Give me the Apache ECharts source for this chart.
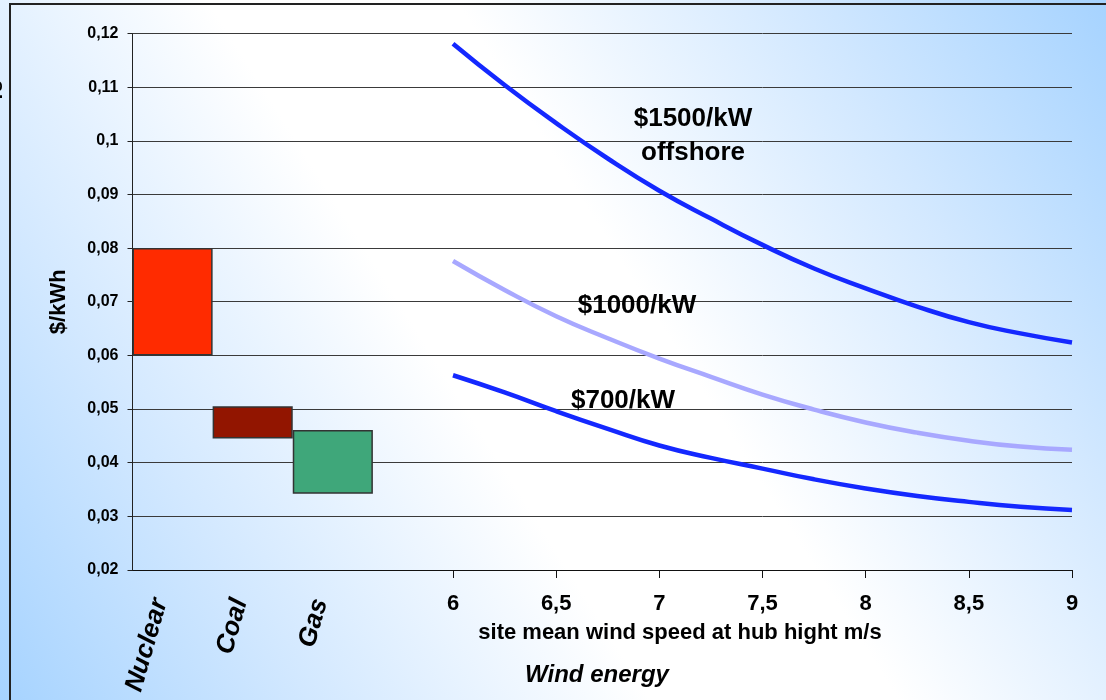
<!DOCTYPE html>
<html>
<head>
<meta charset="utf-8">
<script src="https://cdn.jsdelivr.net/npm/echarts@6/dist/echarts.min.js"></script>
<style>
  html, body { margin: 0; padding: 0; }
  #chart { width: 1106px; height: 700px; }
</style>
</head>
<body>
<div id="chart"></div>
<script>
// Conventional generation cost ranges ($/kWh)
const plants = ['Nuclear', 'Coal', 'Gas', ''];
const plantLow = [0.060, 0.0445, 0.0342, null];
const plantHigh = [0.080, 0.0505, 0.0461, null];
const plantColors = ['#ff2b00', '#921500', '#3fa77a', 'transparent'];

// Wind energy cost vs. site mean wind speed (m/s)
const windSpeed = [6, 6.25, 6.5, 6.75, 7, 7.25, 7.5, 7.75, 8, 8.25, 8.5, 8.75, 9];
const cost1500 = [0.1181, 0.1104, 0.1033, 0.0967, 0.0907, 0.0855, 0.0806, 0.0762, 0.0725, 0.0691, 0.0662, 0.0641, 0.0624];
const cost1000 = [0.0776, 0.0722, 0.0673, 0.0632, 0.0594, 0.0560, 0.0527, 0.0499, 0.0475, 0.0456, 0.0441, 0.0430, 0.0424];
const cost700  = [0.0563, 0.0531, 0.0496, 0.0463, 0.0432, 0.0409, 0.0389, 0.0369, 0.0352, 0.0338, 0.0327, 0.0318, 0.0312];

const yMin = 0.02, yMax = 0.12, yStep = 0.01;
const xMin = 6, xMax = 9, xStep = 0.5;

const FONT = "'Liberation Sans', Arial, sans-serif";
const comma = v => String(+(+v).toFixed(3)).replace('.', ',');

const chart = echarts.init(document.getElementById('chart'));

const pair = (xs, ys) => xs.map((x, i) => [x, ys[i]]);

const lineStyle = (color) => ({ width: 4.5, color: color });

const label = (text, x, y, font) => ({
  type: 'text', x: x, y: y, z: 50,
  style: { text: text, font: font, fill: '#000', align: 'center', verticalAlign: 'middle' }
});

chart.setOption({
  animation: false,
  backgroundColor: {
    type: 'linear', x: 1, y: 0, x2: 0, y2: 1,
    colorStops: [
      { offset: 0, color: '#a6d3ff' },
      { offset: 0.2, color: '#d2e8ff' },
      { offset: 0.42, color: '#ffffff' },
      { offset: 0.58, color: '#ffffff' },
      { offset: 0.8, color: '#d2e8ff' },
      { offset: 1, color: '#a6d3ff' }
    ]
  },
  textStyle: { fontFamily: FONT },
  grid: [
    { left: 132.5, right: 653, top: 33.5, bottom: 130 },
    { left: 453, right: 34, top: 33.5, bottom: 130 }
  ],
  xAxis: [
    {
      gridIndex: 0, type: 'category', data: plants,
      axisLine: { lineStyle: { color: '#111', width: 1 } },
      axisTick: { length: 8, lineStyle: { color: '#111' } },
      axisLabel: {
        rotate: 74, margin: 33, color: '#000', verticalAlign: 'bottom',
        fontFamily: FONT, fontSize: 26, fontWeight: 'bold', fontStyle: 'italic'
      }
    },
    {
      gridIndex: 1, type: 'value', min: xMin, max: xMax, interval: xStep,
      axisLine: { onZero: false, lineStyle: { color: '#111', width: 1 } },
      axisTick: { length: 8, lineStyle: { color: '#111' } },
      splitLine: { show: false },
      axisLabel: {
        margin: 23, color: '#000', formatter: comma,
        fontFamily: FONT, fontSize: 22, fontWeight: 'bold'
      }
    }
  ],
  yAxis: [
    {
      gridIndex: 0, type: 'value', min: yMin, max: yMax, interval: yStep,
      name: '$/kWh', nameLocation: 'middle', nameRotate: 90, nameGap: 63,
      nameTextStyle: { color: '#000', fontFamily: FONT, fontSize: 22, fontWeight: 'bold' },
      axisLine: { show: true, lineStyle: { color: '#222', width: 1 } },
      axisTick: { show: true, length: 5, lineStyle: { color: '#222' } },
      splitLine: { lineStyle: { color: '#3a3a3a', width: 1 } },
      axisLabel: {
        margin: 14, color: '#000', formatter: comma,
        fontFamily: FONT, fontSize: 16, fontWeight: 'bold'
      }
    },
    {
      gridIndex: 1, type: 'value', min: yMin, max: yMax, interval: yStep,
      axisLine: { show: false }, axisTick: { show: false }, axisLabel: { show: false },
      splitLine: { lineStyle: { color: '#3a3a3a', width: 1 } }
    }
  ],
  series: [
    {
      type: 'bar', xAxisIndex: 0, yAxisIndex: 0, stack: 'range',
      barCategoryGap: 0, silent: true,
      itemStyle: { color: 'transparent' },
      data: plantLow
    },
    {
      type: 'bar', xAxisIndex: 0, yAxisIndex: 0, stack: 'range',
      barCategoryGap: 0,
      data: plantHigh.map((h, i) => h === null ? null : {
        value: +(h - plantLow[i]).toFixed(4),
        itemStyle: { color: plantColors[i], borderColor: '#333', borderWidth: 1.5 }
      })
    },
    {
      name: '$1500/kW offshore', type: 'line', xAxisIndex: 1, yAxisIndex: 1,
      smooth: true, symbol: 'none', lineStyle: lineStyle('#1428ff'),
      data: pair(windSpeed, cost1500)
    },
    {
      name: '$1000/kW', type: 'line', xAxisIndex: 1, yAxisIndex: 1,
      smooth: true, symbol: 'none', lineStyle: lineStyle('#a8a8ff'),
      data: pair(windSpeed, cost1000)
    },
    {
      name: '$700/kW', type: 'line', xAxisIndex: 1, yAxisIndex: 1,
      smooth: true, symbol: 'none', lineStyle: lineStyle('#1428ff'),
      data: pair(windSpeed, cost700)
    }
  ],
  graphic: [
    {
      type: 'rect', silent: true, z: 100,
      shape: { x: 10, y: 4, width: 1200, height: 800 },
      style: { fill: 'none', stroke: '#222', lineWidth: 2 }
    },
    {
      type: 'text', x: -4, y: 90, rotation: Math.PI / 2, z: 100,
      style: { text: 'rs', font: "bold 20px " + FONT, fill: '#000', align: 'center', verticalAlign: 'middle' }
    },
    label('$1500/kW', 693, 119, "bold 26px " + FONT),
    label('offshore', 693, 153, "bold 26px " + FONT),
    label('$1000/kW', 637, 306, "bold 26px " + FONT),
    label('$700/kW', 623, 401, "bold 26px " + FONT),
    label('site mean wind speed at hub hight m/s', 680, 633, "bold 22px " + FONT),
    label('Wind energy', 597, 675, "italic bold 24px " + FONT)
  ]
});
</script>
</body>
</html>
